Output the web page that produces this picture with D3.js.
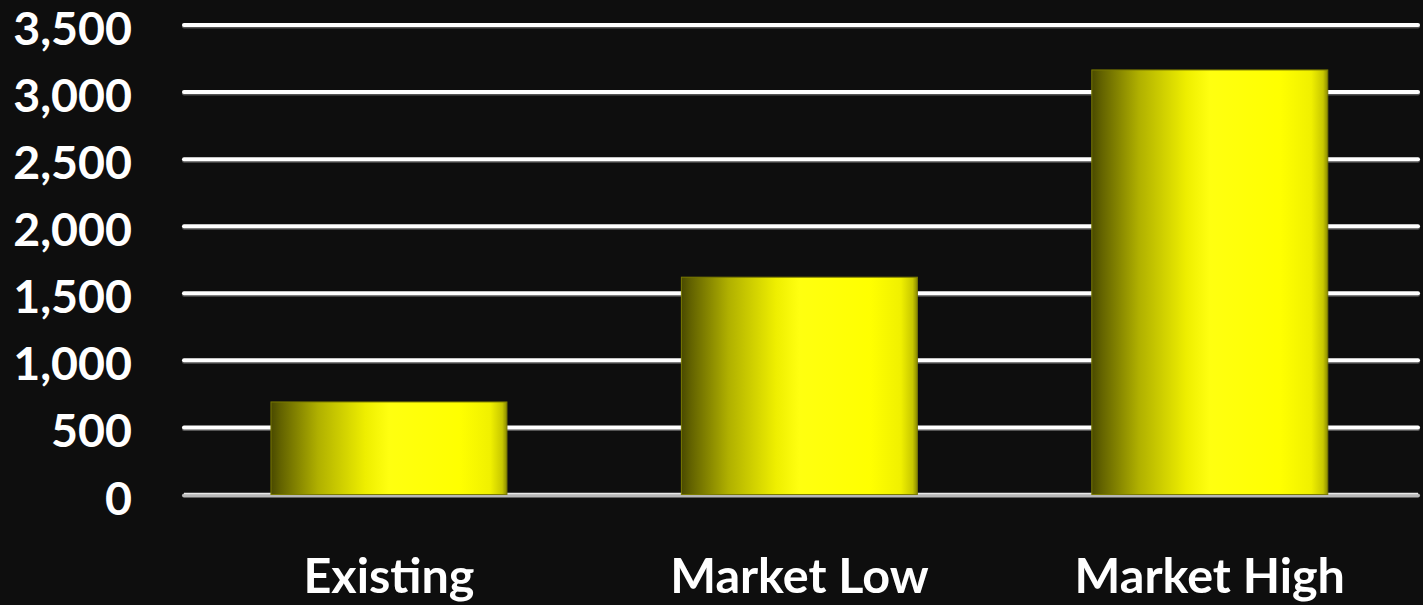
<!DOCTYPE html>
<html><head><meta charset="utf-8">
<script src="https://cdn.jsdelivr.net/npm/d3@7"></script>
<style>html,body{margin:0;padding:0;background:#0e0e0e;}svg{display:block;}</style>
</head><body>
<script>
const categories = ["Existing", "Market Low", "Market High"];
const values = [690, 1620, 3165];
const yTicks = [0, 500, 1000, 1500, 2000, 2500, 3000, 3500];

const W = 1423, H = 605;
const svg = d3.select("body").append("svg").attr("width", W).attr("height", H);
svg.append("rect").attr("width", W).attr("height", H).attr("fill", "#0e0e0e");

const y = d3.scaleLinear().domain([0, 3500]).range([494.5, 25]);
const x = d3.scaleBand().domain(categories).range([183.75, 1415]).paddingInner(0.425).paddingOuter(0.2125);

const defs = svg.append("defs");
const g = defs.append("linearGradient").attr("id", "barGrad").attr("x1", "0").attr("x2", "1").attr("y1", "0").attr("y2", "0");
[[0, "#4a4a00"], [0.04, "#626200"], [0.2, "#b0b000"], [0.4, "#eeee00"], [0.5, "#ffff10"], [0.8, "#ffff00"], [0.93, "#f0f000"], [0.98, "#c8c800"], [1, "#8a8a00"]]
  .forEach(([o, c]) => g.append("stop").attr("offset", o).attr("stop-color", c));

// gridlines
const grid = svg.append("g");
yTicks.filter(t => t > 0).forEach(t => {
  grid.append("line").attr("x1", 184).attr("x2", 1418).attr("y1", y(t) + 1.5).attr("y2", y(t) + 1.5)
    .attr("stroke", "#555").attr("stroke-width", 4).attr("stroke-linecap", "round");
  grid.append("line").attr("x1", 184).attr("x2", 1418).attr("y1", y(t)).attr("y2", y(t))
    .attr("stroke", "#ffffff").attr("stroke-width", 4).attr("stroke-linecap", "round");
});
// baseline
grid.append("line").attr("x1", 184).attr("x2", 1418).attr("y1", y(0) + 1).attr("y2", y(0) + 1)
  .attr("stroke", "#b8b8b8").attr("stroke-width", 4).attr("stroke-linecap", "round");
grid.append("line").attr("x1", 184).attr("x2", 1418).attr("y1", y(0) - 1).attr("y2", y(0) - 1)
  .attr("stroke", "#e8e8e8").attr("stroke-width", 1.5);

// bars
svg.append("g").selectAll("rect").data(values).join("rect")
  .attr("x", (d, i) => x(categories[i]))
  .attr("y", d => y(d))
  .attr("width", x.bandwidth())
  .attr("height", d => y(0) - y(d))
  .attr("fill", "url(#barGrad)")
  .attr("stroke", "#7a7a00").attr("stroke-width", 1);

// y labels
const yAxis = d3.axisLeft(y).tickValues(yTicks).tickFormat(d3.format(",")).tickSize(0).tickPadding(0);
const ya = svg.append("g").attr("transform", "translate(132,0)").call(yAxis);
ya.select(".domain").remove();
ya.selectAll("text").attr("fill", "#ffffff").attr("font-family", "Lato, sans-serif").attr("font-weight", 700).attr("font-size", 46.5).attr("dy", "0.42em");

// x labels
const xAxis = d3.axisBottom(x).tickSize(0).tickPadding(0);
const xa = svg.append("g").attr("transform", "translate(0,593)").call(xAxis);
xa.select(".domain").remove();
xa.selectAll("text").attr("fill", "#ffffff").attr("font-family", "Lato, sans-serif").attr("font-weight", 700).attr("font-size", 48.5).attr("dy", 0);
</script>
</body></html>
